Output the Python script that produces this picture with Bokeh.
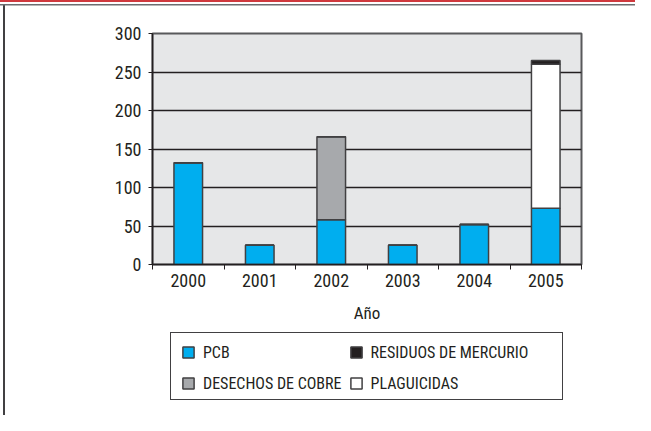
from bokeh.plotting import figure
from bokeh.models import FixedTicker, Legend, LegendItem
from bokeh.layouts import column
from bokeh.embed import file_html
from bokeh.resources import INLINE

years = ["2000", "2001", "2002", "2003", "2004", "2005"]
pcb = [132, 25, 58, 25, 52, 73]
cobre = [0, 0, 108, 0, 0, 0]
plaguicidas = [0, 0, 0, 0, 0, 187]
mercurio = [0, 0, 0, 0, 0, 5]
y_ticks = [0, 50, 100, 150, 200, 250, 300]

FONT = "Roboto Condensed"
TXT = "#231f20"

xs = list(range(1, len(years) + 1))
source = dict(x=xs, pcb=pcb, cobre=cobre, plaguicidas=plaguicidas, mercurio=mercurio)

W, H1, H2 = 635, 330, 85
p = figure(width=W, height=H1, x_range=(0.5, len(years) + 0.5), y_range=(0, 300),
           output_backend="svg", toolbar_location=None,
           min_border_left=152, min_border_right=W - 581, min_border_top=33,
           min_border_bottom=H1 - 264)

p.background_fill_color = "#e6e7e8"
p.border_fill_alpha = 0
p.outline_line_color = "#58595b"
p.outline_line_width = 2

stack = ["pcb", "cobre", "plaguicidas", "mercurio"]
colors = ["#00aeef", "#a7a9ac", "#ffffff", "#231f20"]
rs = p.vbar_stack(stack, x="x", width=0.4, source=source, fill_color=colors,
                  line_color="#414042", line_width=1.5)

# grid
p.xgrid.grid_line_color = None
p.ygrid.grid_line_color = "#231f20"
p.ygrid.grid_line_width = 1.5

# y axis
p.yaxis.ticker = FixedTicker(ticks=y_ticks)
p.yaxis.axis_line_color = "#231f20"
p.yaxis.axis_line_width = 1.5
p.yaxis.major_tick_in = 0
p.yaxis.major_tick_out = 4
p.yaxis.major_tick_line_color = "#231f20"
p.yaxis.minor_tick_line_color = None
p.yaxis.major_label_standoff = 7
p.yaxis.major_label_text_font = FONT
p.yaxis.major_label_text_font_size = "18px"
p.yaxis.major_label_text_color = TXT

# x axis
p.xaxis.ticker = FixedTicker(ticks=xs, minor_ticks=[x - 0.5 for x in xs] + [xs[-1] + 0.5])
p.xaxis.major_label_overrides = {x: y for x, y in zip(xs, years)}
p.xaxis.axis_line_color = "#231f20"
p.xaxis.axis_line_width = 1.5
p.xaxis.major_tick_line_color = None
p.xaxis.major_tick_in = 0
p.xaxis.major_tick_out = 4
p.xaxis.minor_tick_in = 0
p.xaxis.minor_tick_out = 5
p.xaxis.minor_tick_line_color = "#231f20"
p.xaxis.major_label_standoff = 4
p.xaxis.major_label_text_font = FONT
p.xaxis.major_label_text_font_size = "18px"
p.xaxis.major_label_text_color = TXT
p.xaxis.axis_label = "Año"
p.xaxis.axis_label_text_font = FONT
p.xaxis.axis_label_text_font_size = "17px"
p.xaxis.axis_label_text_font_style = "normal"
p.xaxis.axis_label_text_color = TXT
p.xaxis.axis_label_standoff = 13

# legend strip (second figure, same-style swatches with no drawable data)
q = figure(width=W, height=H2, x_range=(0, 1), y_range=(0, 1),
           output_backend="svg", toolbar_location=None,
           x_axis_type=None, y_axis_type=None, min_border=0)
q.grid.visible = False
q.outline_line_color = None
q.background_fill_alpha = 0
q.border_fill_alpha = 0
nan = float("nan")
sw = {}
for name, col in zip(stack, colors):
    sw[name] = q.vbar(x=[nan], top=[nan], bottom=[nan], width=0.1, fill_color=col,
                      line_color="#414042", line_width=1.5)

legend = Legend(items=[
    LegendItem(label="PCB", renderers=[sw["pcb"]]),
    LegendItem(label="RESIDUOS DE MERCURIO", renderers=[sw["mercurio"]]),
    LegendItem(label="DESECHOS DE COBRE", renderers=[sw["cobre"]]),
    LegendItem(label="PLAGUICIDAS", renderers=[sw["plaguicidas"]]),
], orientation="horizontal", ncols=2, location=(29, 20))
legend.border_line_color = None
legend.background_fill_alpha = 0
legend.padding = 0
legend.margin = 0
legend.spacing = 7
legend.glyph_width = 14
legend.glyph_height = 14
legend.label_height = 24
legend.label_standoff = 8
legend.label_text_font = FONT
legend.label_text_font_size = "16px"
legend.label_text_color = TXT
q.add_layout(legend, "center")

layout = column(p, q, spacing=0)

# page frame lines and legend box drawn as CSS background of the page element
lines = [
    ("#d0393e", "100% 2px", "0px 0px"),
    ("#6d6e70", "100% 1.5px", "0px 4px"),
    ("#414042", "2px 100%", "3px 4px"),
    ("#414042", "393px 1px", "170px 332px"),
    ("#414042", "393px 1px", "170px 399px"),
    ("#414042", "1px 68px", "170px 332px"),
    ("#414042", "1px 68px", "562px 332px"),
]
layout.styles = {
    "background-image": ", ".join(f"linear-gradient({c}, {c})" for c, _, _ in lines),
    "background-size": ", ".join(s for _, s, _ in lines),
    "background-position": ", ".join(pos for _, _, pos in lines),
    "background-repeat": "no-repeat",
}

open("out.html", "w").write(file_html(layout, INLINE))
